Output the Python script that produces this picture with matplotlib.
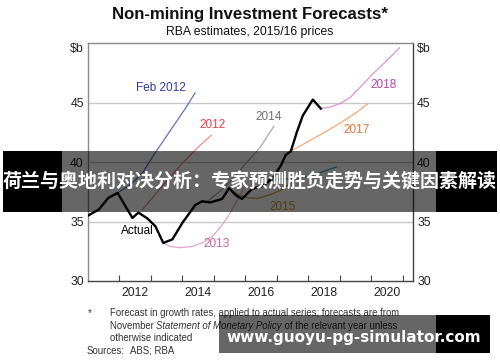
import matplotlib
matplotlib.use("Agg")
import matplotlib.pyplot as plt
from matplotlib.patches import Rectangle

plt.rcParams['font.family'] = ['Liberation Sans', 'DejaVu Sans']

# ---------------- data ----------------
actual_x = [2011.0, 2011.34, 2011.65, 2011.94, 2012.41, 2012.6, 2012.89, 2013.14, 2013.39,
            2013.68, 2014.0, 2014.41, 2014.63, 2014.88, 2015.26, 2015.48, 2015.7, 2015.89,
            2016.21, 2016.56, 2016.9, 2017.13, 2017.28, 2017.44, 2017.63, 2017.82, 2018.14, 2018.39]
actual_y = [35.5, 36.0, 37.0, 37.4, 35.3, 35.75, 35.25, 34.6, 33.2,
            33.5, 34.9, 36.4, 36.7, 36.6, 36.9, 37.8, 37.2, 36.9,
            37.75, 38.0, 38.75, 39.75, 40.6, 40.9, 42.5, 43.9, 45.25, 44.5]

feb2012_x = [2011.94, 2012.4, 2012.76, 2013.04, 2013.55, 2014.09, 2014.4]
feb2012_y = [37.4, 38.2, 39.2, 40.4, 42.4, 44.5, 45.8]

f2012_x = [2012.73, 2013.3, 2013.93, 2014.44, 2014.91]
f2012_y = [36.0, 37.8, 39.7, 41.1, 42.25]

f2013_x = [2013.39, 2013.61, 2013.93, 2014.31, 2014.66, 2014.97, 2015.26, 2015.51, 2015.73, 2015.96]
f2013_y = [33.2, 32.9, 32.8, 32.9, 33.25, 33.8, 34.7, 35.7, 36.75, 37.9]

f2014_x = [2014.82, 2015.26, 2015.67, 2016.05, 2016.46, 2016.9]
f2014_y = [36.75, 37.7, 38.8, 40.0, 41.2, 43.0]

f2015_x = [2015.48, 2015.77, 2016.08, 2016.4, 2016.72, 2017.1, 2017.6]
f2015_y = [37.8, 37.25, 37.0, 36.95, 37.2, 37.6, 38.5]

f2016_x = [2016.75, 2017.4, 2018.04, 2018.9]
f2016_y = [38.5, 38.6, 38.8, 39.6]

f2017_x = [2017.44, 2017.95, 2018.45, 2018.99, 2019.53, 2019.88]
f2017_y = [40.9, 41.67, 42.4, 43.25, 44.17, 44.9]

f2018_x = [2018.39, 2018.67, 2018.99, 2019.31, 2019.63, 2020.04, 2020.48, 2020.89]
f2018_y = [44.5, 44.6, 44.9, 45.4, 46.25, 47.4, 48.5, 49.6]

x_tick_labels = ['2012', '2014', '2016', '2018', '2020']
y_tick_values = [30, 35, 40, 45]
y_tick_labels = ['30', '35', '40', '45']

title = 'Non-mining Investment Forecasts*'
subtitle = 'RBA estimates, 2015/16 prices'
banner_text = '荷兰与奥地利对决分析：专家预测胜负走势与关键因素解读'
watermark_text = 'www.guoyu-pg-simulator.com'

# ---------------- figure ----------------
fig = plt.figure(figsize=(5, 3.62), dpi=100)
ax = fig.add_axes([0.176, 0.2238, 0.65, 0.6572])
ax.set_xlim(2011.0, 2021.32)
ax.set_ylim(30, 50)

for yv in [35, 40, 45]:
    ax.axhline(yv, color='#c8c8c8', lw=1.0, zorder=0)

lw_f = 0.9
ax.plot(feb2012_x, feb2012_y, color='#6272c4', lw=lw_f)
ax.plot(f2012_x, f2012_y, color='#f08a8a', lw=lw_f)
ax.plot(f2013_x, f2013_y, color='#e4a6c6', lw=lw_f)
ax.plot(f2014_x, f2014_y, color='#a8a8a8', lw=lw_f)
ax.plot(f2015_x, f2015_y, color='#c8a04a', lw=lw_f)
ax.plot(f2016_x, f2016_y, color='#5aa0d0', lw=lw_f)
ax.plot(f2017_x, f2017_y, color='#f6a878', lw=lw_f)
ax.plot(f2018_x, f2018_y, color='#d896d8', lw=lw_f)
ax.plot(actual_x, actual_y, color='black', lw=1.7, zorder=5)

fs_lab = 8.5
ax.text(2013.3, 46.2, 'Feb 2012', color='#2e3d9e', fontsize=fs_lab, ha='center', va='center')
ax.text(2014.97, 43.1, '2012', color='#e8404e', fontsize=fs_lab, ha='center', va='center')
ax.text(2016.72, 43.75, '2014', color='#6e6e6e', fontsize=fs_lab, ha='center', va='center')
ax.text(2020.39, 46.5, '2018', color='#c040b0', fontsize=fs_lab, ha='center', va='center')
ax.text(2019.53, 42.67, '2017', color='#f07030', fontsize=fs_lab, ha='center', va='center')
ax.text(2017.19, 36.25, '2015', color='#c8962a', fontsize=fs_lab, ha='center', va='center')
ax.text(2015.07, 33.1, '2013', color='#d0609a', fontsize=fs_lab, ha='center', va='center')
ax.text(2012.57, 34.17, 'Actual', color='black', fontsize=fs_lab, ha='center', va='center')

# axes styling
for s in ['left', 'top']:
    ax.spines[s].set_color('#8a8a8a')
for s in ['right', 'bottom']:
    ax.spines[s].set_color('#444444')
for s in ax.spines.values():
    s.set_linewidth(1.0)

ax.set_xticks(list(range(2012, 2022)))
ax.set_xticklabels([])
ax.tick_params(axis='x', which='major', direction='in', length=4, color='#444444', width=0.8)
ax.set_xticks([2012.5, 2014.5, 2016.5, 2018.5, 2020.5], minor=True)
ax.set_xticklabels(x_tick_labels, minor=True)
ax.tick_params(axis='x', which='minor', length=0, labelsize=8.8, pad=4, labelcolor='#222222')

ax.set_yticks(y_tick_values + [49.6])
ax.set_yticklabels(y_tick_labels + ['$b'])
ax.tick_params(axis='y', which='major', length=0, labelsize=8.8, pad=3,
               labelleft=True, labelright=True, labelcolor='#222222')

# titles
fig.text(0.5, 0.961, title, fontsize=12.1, fontweight='bold', ha='center', va='center', color='#111111')
fig.text(0.5, 0.912, subtitle, fontsize=8.8, ha='center', va='center', color='#111111')

# footnotes
fn = 6.9
fcol = '#333333'
fig.text(0.176, 0.1354, '*', fontsize=fn, ha='left', va='center', color=fcol)
fig.text(0.22, 0.1354, 'Forecast in growth rates, applied to actual series; forecasts are from',
         fontsize=fn, ha='left', va='center', color=fcol)
t1 = fig.text(0.22, 0.0994, 'November ', fontsize=fn, ha='left', va='center', color=fcol)
fig.canvas.draw()
r = fig.canvas.get_renderer()
bb = t1.get_window_extent(renderer=r)
x2 = bb.x1 / fig.bbox.width
t2 = fig.text(x2, 0.0994, 'Statement of Monetary Policy', fontsize=fn, style='italic',
              ha='left', va='center', color=fcol)
bb2 = t2.get_window_extent(renderer=r)
x3 = bb2.x1 / fig.bbox.width
fig.text(x3, 0.0994, ' of the relevant year unless', fontsize=fn, ha='left', va='center', color=fcol)
fig.text(0.22, 0.0663, 'otherwise indicated', fontsize=fn, ha='left', va='center', color=fcol)
fig.text(0.174, 0.0304, 'Sources:', fontsize=fn, ha='left', va='center', color=fcol)
fig.text(0.26, 0.0304, 'ABS; RBA', fontsize=fn, ha='left', va='center', color=fcol)

# banner overlay
b0, b1 = 0.4144, 0.5829
fig.add_artist(Rectangle((0.006, b0), 0.118, b1 - b0, transform=fig.transFigure,
                         facecolor='black', edgecolor='none', zorder=20))
fig.add_artist(Rectangle((0.124, b0), 0.748, b1 - b0, transform=fig.transFigure,
                         facecolor='black', alpha=0.6, edgecolor='none', zorder=20))
fig.add_artist(Rectangle((0.872, b0), 0.122, b1 - b0, transform=fig.transFigure,
                         facecolor='black', edgecolor='none', zorder=20))
fig.text(0.5, (b0 + b1) / 2, banner_text, fontsize=13.7, fontweight='bold', color='white',
         ha='center', va='center', family=['Noto Sans CJK SC', 'DejaVu Sans'], zorder=21)

# watermark
w0, w1 = 0.0249, 0.1298
fig.add_artist(Rectangle((0.438, w0), 0.434, w1 - w0, transform=fig.transFigure,
                         facecolor='black', alpha=0.6, edgecolor='none', zorder=20))
fig.add_artist(Rectangle((0.872, w0), 0.108, w1 - w0, transform=fig.transFigure,
                         facecolor='black', edgecolor='none', zorder=20))
fig.text(0.708, 0.069, watermark_text, fontsize=11, fontweight='bold', color='white',
         ha='center', va='center', family=['DejaVu Sans'], zorder=21)

fig.savefig('out.png', dpi=100)
